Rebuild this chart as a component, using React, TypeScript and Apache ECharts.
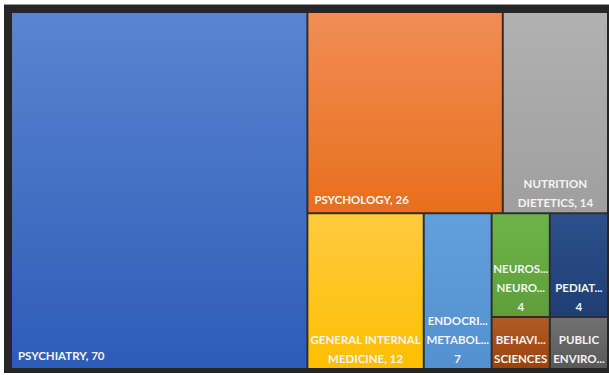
import React, { useEffect, useRef } from "react";
import * as echarts from "echarts";

const categories = [
  "PSYCHIATRY",
  "PSYCHOLOGY",
  "NUTRITION DIETETICS",
  "GENERAL INTERNAL MEDICINE",
  "ENDOCRINOLOGY METABOLISM",
  "NEUROSCIENCES NEUROLOGY",
  "PEDIATRICS",
  "BEHAVIORAL SCIENCES",
  "PUBLIC ENVIRONMENTAL OCCUPATIONAL HEALTH",
];
const values = [70, 26, 14, 12, 7, 4, 4, 2, 2];
const colorsTop = ["#5b84d0", "#f18d55", "#b1b1b1", "#ffca40", "#62a0dc", "#6db34a", "#2d508b", "#b05b26", "#717171"];
const colorsBottom = ["#2d5cb8", "#e86f1c", "#9f9f9f", "#fdbf00", "#5290cf", "#5d9f3b", "#1e3e74", "#9a420b", "#595959"];
// label style: "line" = one line at bottom-left, "wrap" = wrapped centered, "stack" = each word on its own line, truncated
const labelModes = ["line", "line", "wrap", "wrap", "stack", "stack", "stack", "stack", "stack"];
// the smallest categories are arranged together in one block, as in the original layout
const groupedFrom = 5;

export default function App() {
  const ref = useRef<HTMLDivElement>(null);
  useEffect(() => {
    if (!ref.current) return;
    const chart = echarts.init(ref.current, null, { renderer: "svg" });
    const items = categories.map((name, i) => {
      const mode = labelModes[i];
      const label: any = {
        show: true,
        color: "#f4f4f4",
        fontFamily: "Lato",
        fontWeight: "bold",
        fontSize: 11.5,
        lineHeight: 19,
      };
      if (mode === "line") {
        label.position = "insideBottomLeft";
        label.align = "left";
        label.padding = [0, 0, 3, 6];
        label.formatter = "{b}, {c}";
      } else if (mode === "wrap") {
        label.position = "insideBottom";
        label.align = "center";
        label.overflow = "break";
        label.padding = [0, 0, 0, 0];
        label.formatter = (p: any) => {
          const w = String(p.name).split(" ");
          const last = w.pop();
          return w.join(" ") + "\n" + last + ", " + p.value;
        };
      } else {
        label.position = "insideBottom";
        label.align = "center";
        label.overflow = "truncate";
        label.ellipsis = "...";
        label.lineOverflow = "truncate";
        label.padding = [0, 0, 0, 0];
        label.formatter = (p: any) => {
          const w = String(p.name).split(" ").slice(0, 2);
          return w.join("\n") + "\n" + p.value;
        };
      }
      return {
        name,
        value: values[i],
        itemStyle: {
          color: new echarts.graphic.LinearGradient(0, 0, 0, 1, [
            { offset: 0, color: colorsTop[i] },
            { offset: 1, color: colorsBottom[i] },
          ]),
        },
        label,
      };
    });
    const data: any[] = items.slice(0, groupedFrom);
    data.push({
      name: "",
      itemStyle: { color: "#2e2e2e" },
      children: items.slice(groupedFrom),
    });
    chart.setOption({
      animation: false,
      backgroundColor: "#ffffff",
      graphic: [
        {
          type: "rect",
          shape: { x: 4, y: 4, width: 605, height: 369 },
          style: { fill: "#262626" },
          z: -10,
        },
        {
          type: "rect",
          shape: { x: 4, y: 4, width: 605, height: 1 },
          style: { fill: "#9a9a9a" },
          z: -9,
        },
      ],
      series: [
        {
          type: "treemap",
          left: 12,
          top: 13,
          width: 595,
          height: 355,
          roam: false,
          nodeClick: false,
          sort: false,
          squareRatio: 1,
          breadcrumb: { show: false },
          levels: [
            { itemStyle: { borderColor: "#2e2e2e", borderWidth: 0, gapWidth: 2 } },
            { itemStyle: { borderColor: "#2e2e2e", borderWidth: 0, gapWidth: 2 } },
            { itemStyle: { borderColor: "#2e2e2e", borderWidth: 0, gapWidth: 2 } },
          ],
          data,
        },
      ],
    });
    return () => chart.dispose();
  }, []);
  return (
    <div
      ref={ref}
      style={{ position: "fixed", left: 0, top: 0, width: 609, height: 375 }}
    />
  );
}
